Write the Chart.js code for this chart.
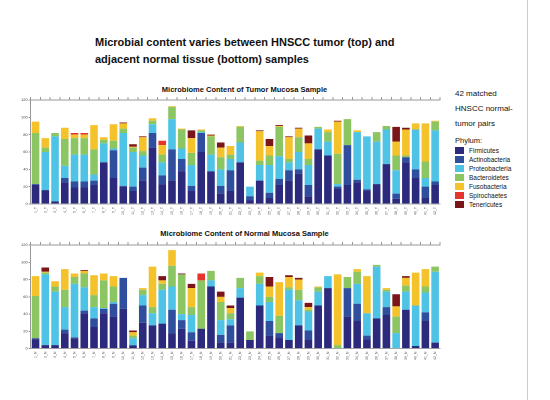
<!DOCTYPE html>
<html>
<head>
<meta charset="utf-8">
<script src="https://cdn.jsdelivr.net/npm/chart.js@4"></script>
<style>
  body { margin: 0; background: #fff; font-family: "Liberation Sans", Arial, sans-serif; }
  #page { position: relative; width: 550px; height: 400px; overflow: hidden; }
  .abs { position: absolute; }
  #title { left: 95px; top: 34px; font-size: 11px; font-weight: bold; line-height: 17px; color: #111; }
  .ctitle { font-size: 7.5px; font-weight: bold; color: #111; width: 425px; text-align: center; left: 32px; }
  #legend { left: 455px; top: 86px; font-size: 8px; color: #111; }
  #legend .sq { display: inline-block; width: 9px; height: 7px; margin-right: 5px; vertical-align: -1px; }
  #legend .item { height: 9px; font-size: 6.5px; }
  #rule { left: 527px; top: 0; width: 1px; height: 400px; background: #ccc; }
</style>
</head>
<body>
<div id="page">
  <div id="rule" class="abs"></div>
  <div id="title" class="abs">Microbial content varies between HNSCC tumor (top) and<br>adjacent normal tissue (bottom) samples</div>
  <div class="abs ctitle" style="top:85px">Microbiome Content of Tumor Mucosa Sample</div>
  <div class="abs ctitle" style="top:229px">Microbiome Content of Normal Mucosa Sample</div>
  <div id="legend" class="abs"></div>
  <canvas id="tumor" class="abs" style="left:20px;top:93px;width:425px;height:123px"></canvas>
  <canvas id="normal" class="abs" style="left:20px;top:238px;width:425px;height:123px"></canvas>
</div>
<script>
var phyla = ['Firmicutes', 'Actinobacteria', 'Proteobacteria', 'Bacteroidetes', 'Fusobacteria', 'Spirochaetes', 'Tenericutes'];
var colors = ['#2c2a7d', '#2f4f9e', '#4fc3e5', '#8cc663', '#f4c22b', '#e5352b', '#7a1619'];

var tumorFirmicutes     = [22,16,3,25,19,19,22,48,30,20,15,27,65,23,27,38,15,60,37,12,15,48,4,27,7,22,27,35,9,63,56,18,22,25,15,23,46,6,48,30,7,22];
var tumorActinobacteria = [1,0,0,5,7,7,5,0,32,1,5,15,17,10,36,14,6,22,1,9,24,0,5,0,6,7,12,5,13,0,0,2,46,3,2,0,0,6,6,10,13,4];
var tumorProteobacteria = [0,44,75,14,31,31,7,22,2,61,40,14,10,15,35,12,24,1,19,19,13,23,11,18,32,26,9,20,23,24,16,3,0,55,61,49,40,27,0,46,10,59];
var tumorBacteroidetes  = [59,5,4,31,19,19,29,4,9,5,5,5,4,9,14,22,14,2,21,14,5,18,0,5,11,34,4,17,7,2,11,35,30,0,0,11,4,17,2,0,19,10];
var tumorFusobacteria   = [13,11,0,13,4,4,28,3,19,6,1,16,3,11,1,1,17,1,1,11,10,1,0,34,11,1,25,10,18,0,3,37,0,2,0,0,0,16,30,7,44,1];
var tumorSpirochaetes   = [0,0,0,0,2,2,0,0,0,0,0,0,0,5,0,0,0,0,0,0,0,0,0,0,0,0,0,0,0,0,0,0,0,0,0,0,0,0,0,0,0,0];
var tumorTenericutes    = [0,0,0,0,0,0,0,0,0,1,3,1,0,0,0,0,9,0,1,6,0,0,0,1,8,1,1,1,9,0,0,1,0,0,0,0,0,17,2,0,0,0];

var normalFirmicutes     = [11,4,4,18,12,41,25,41,37,46,3,30,27,29,18,23,9,23,72,7,7,59,10,50,15,13,10,27,10,50,70,0,37,32,11,35,39,0,45,3,32,7];
var normalActinobacteria = [1,0,0,4,1,3,10,5,15,36,1,20,0,0,27,10,10,0,0,9,20,0,0,0,17,5,0,0,11,0,0,0,33,20,4,0,9,0,0,0,10,0];
var normalProteobacteria = [0,82,62,26,62,27,13,1,2,0,8,12,14,39,27,7,20,0,7,17,7,11,0,25,22,0,58,29,22,16,14,0,0,23,26,60,18,18,21,47,23,82];
var normalBacteroidetes  = [49,2,6,20,8,16,14,32,18,0,3,6,7,7,24,46,9,56,11,21,7,12,10,9,6,20,3,12,2,5,0,4,13,14,0,2,2,19,7,0,7,6];
var normalFusobacteria   = [23,1,6,24,4,3,23,8,12,0,4,2,47,4,18,0,22,0,0,6,6,0,0,4,12,39,12,12,3,1,0,82,0,3,43,0,2,12,9,38,20,0];
var normalSpirochaetes   = [0,0,0,0,0,0,0,0,0,0,0,0,0,0,0,0,0,8,0,0,0,0,0,0,0,0,0,0,0,0,0,0,0,0,0,0,0,0,0,0,0,0];
var normalTenericutes    = [0,5,0,0,0,1,0,0,0,0,2,0,0,5,0,1,5,0,0,6,3,0,0,0,11,0,2,2,5,0,0,0,0,0,0,0,0,14,2,0,0,0];

var yTicks = [0, 20, 40, 60, 80, 100, 120];
var tumorLabels = [], normalLabels = [];
for (var i = 1; i <= 42; i++) {
  tumorLabels.push(i + '_T');
  normalLabels.push(i + '_N');
}

// legend
var lg = document.getElementById('legend');
var html = '<div style="line-height:15px;font-size:8px">42 matched<br>HNSCC normal-<br>tumor pairs</div>' +
           '<div style="margin-top:5px;margin-bottom:2px;font-size:7.5px">Phylum:</div>';
for (var k = 0; k < phyla.length; k++) {
  html += '<div class="item"><span class="sq" style="background:' + colors[k] + '"></span>' + phyla[k] + '</div>';
}
lg.innerHTML = html;

function makeChart(id, labels, series) {
  var datasets = [];
  for (var k = 0; k < phyla.length; k++) {
    datasets.push({
      label: phyla[k],
      data: series[k],
      backgroundColor: colors[k],
      borderWidth: 0,
      barPercentage: 0.78,
      categoryPercentage: 1
    });
  }
  return new Chart(document.getElementById(id), {
    type: 'bar',
    data: { labels: labels, datasets: datasets },
    options: {
      responsive: false,
      animation: false,
      devicePixelRatio: 2,
      layout: { padding: { top: 4, right: 5, left: 0, bottom: 0 } },
      plugins: { legend: { display: false }, tooltip: { enabled: false } },
      scales: {
        x: {
          stacked: true,
          grid: { display: false, drawTicks: true, tickLength: 2, color: '#999' },
          border: { display: true, color: '#aaa' },
          ticks: { font: { size: 3.5 }, color: '#555', maxRotation: 90, minRotation: 90, autoSkip: false, padding: 1 }
        },
        xTop: {
          position: 'top',
          type: 'category',
          labels: labels,
          grid: { drawOnChartArea: false, tickLength: 3, color: '#999' },
          border: { display: true, color: '#999' },
          ticks: { display: false }
        },
        y: {
          stacked: true,
          min: 0,
          max: 120,
          afterBuildTicks: function (axis) { axis.ticks = yTicks.map(function (v) { return { value: v }; }); },
          grid: { drawOnChartArea: false, tickLength: 2, color: '#999' },
          border: { display: true, color: '#999' },
          ticks: { font: { size: 4 }, color: '#444', padding: 1 }
        }
      }
    }
  });
}

makeChart('tumor', tumorLabels, [tumorFirmicutes, tumorActinobacteria, tumorProteobacteria, tumorBacteroidetes, tumorFusobacteria, tumorSpirochaetes, tumorTenericutes]);
makeChart('normal', normalLabels, [normalFirmicutes, normalActinobacteria, normalProteobacteria, normalBacteroidetes, normalFusobacteria, normalSpirochaetes, normalTenericutes]);
</script>
</body>
</html>
